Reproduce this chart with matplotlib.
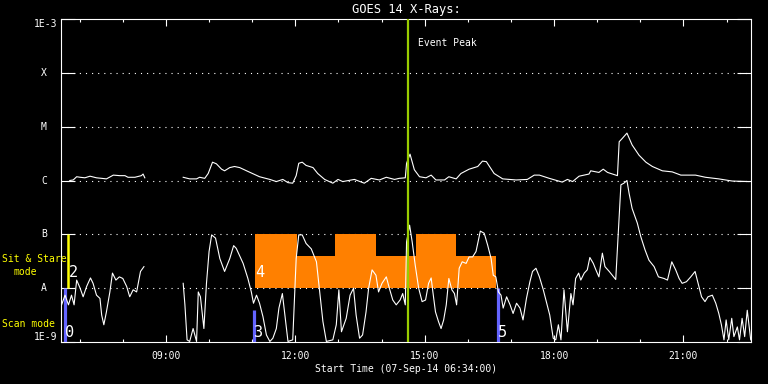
import matplotlib

matplotlib.use("Agg")
import matplotlib.pyplot as plt
import numpy as np
from matplotlib import transforms
from matplotlib.ticker import FixedLocator, NullLocator

nan = np.nan

# GOES 14, 07-Sep-14 : time in hours of day, flux as log10(W/m^2)
long_hours = [6.77, 6.85, 6.93, 7.01, 7.12, 7.24, 7.39, 7.51, 7.62, 7.78, 7.93, 8.05,
              8.12, 8.28, 8.43, 8.47, 8.51, nan,
              9.40, 9.55, 9.71, 9.78, 9.90, 9.98, 10.08, 10.17, 10.29, 10.36,
              10.48, 10.59, 10.71, 10.87, 11.17, 11.41, 11.56, 11.71, 11.83, 11.94,
              12.02, 12.08, 12.16, 12.25, 12.41, 12.52, 12.68, 12.87, 12.99, 13.10,
              13.37, 13.60, 13.76, 13.95, 14.11, 14.30, 14.41, 14.55, 14.58, 14.66,
              14.76, 14.88, 15.03, 15.15, 15.26, 15.46, 15.56, 15.73, 15.84, 16.03,
              16.23, 16.34, 16.43, 16.61, 16.81, 17.12, 17.38, 17.54, 17.66, 17.89,
              18.19, 18.31, 18.43, 18.58, 18.81, 18.85, 19.04, 19.14, 19.24, 19.47,
              19.51, 19.58, 19.69, 19.81, 19.97, 20.13, 20.28, 20.51, 20.74, 20.94,
              21.28, 21.51, 21.82, 22.13, 22.52]
long_log = [-6.00, -5.99, -5.93, -5.94, -5.95, -5.92, -5.95, -5.96, -5.97, -5.90, -5.91, -5.91,
            -5.94, -5.94, -5.91, -5.88, -5.95, nan,
            -5.94, -5.97, -5.97, -5.94, -5.96, -5.87, -5.66, -5.69, -5.79, -5.82,
            -5.76, -5.74, -5.76, -5.82, -5.93, -5.98, -6.02, -5.98, -6.04, -6.05,
            -5.91, -5.68, -5.66, -5.72, -5.76, -5.87, -5.98, -6.05, -5.98, -6.02,
            -5.98, -6.05, -5.96, -5.99, -5.94, -5.98, -5.96, -5.95, -5.68, -5.51,
            -5.80, -5.93, -5.95, -5.90, -5.99, -5.99, -5.93, -5.97, -5.87, -5.79,
            -5.74, -5.64, -5.65, -5.87, -5.97, -5.99, -5.98, -5.90, -5.90, -5.96,
            -6.03, -5.98, -6.02, -5.92, -5.88, -5.82, -5.85, -5.79, -5.85, -5.91,
            -5.28, -5.22, -5.12, -5.34, -5.53, -5.66, -5.74, -5.82, -5.84, -5.90,
            -5.90, -5.94, -5.97, -6.01, -6.02]

short_hours = [6.58, 6.66, 6.74, 6.81, 6.87, 6.93, 7.01, 7.08, 7.16, 7.25, 7.31, 7.39,
               7.47, 7.51, 7.56, 7.62, 7.70, 7.76, 7.84, 7.92, 8.00, 8.09, 8.16, 8.24,
               8.32, 8.41, 8.49, nan,
               9.40, 9.44, 9.49, 9.55, 9.63, 9.71, 9.75, 9.80, 9.88, 9.94,
               10.00, 10.06, 10.15, 10.25, 10.36, 10.48, 10.57, 10.63, 10.79, 10.90,
               10.98, 11.03, 11.10, 11.17, 11.25, 11.33, 11.41, 11.48, 11.56, 11.62,
               11.70, 11.75, 11.83, 11.94, 12.02, 12.08, 12.16, 12.25, 12.37, 12.49,
               12.56, 12.64, 12.72, 12.87, 12.95, 13.01, 13.07, 13.18, 13.27, 13.35,
               13.41, 13.49, 13.56, 13.64, 13.70, 13.78, 13.87, 13.93, 14.01, 14.11,
               14.18, 14.26, 14.34, 14.43, 14.49, 14.55, 14.58, 14.65, 14.71, 14.78,
               14.86, 14.94, 15.02, 15.09, 15.15, 15.19, 15.25, 15.32, 15.38, 15.44,
               15.50, 15.56, 15.63, 15.69, 15.74, 15.80, 15.87, 15.96, 16.03, 16.11,
               16.19, 16.29, 16.38, 16.46, 16.54, 16.59, 16.65, 16.71, 16.77, 16.82,
               16.90, 16.98, 17.05, 17.13, 17.21, 17.28, 17.36, 17.44, 17.50, 17.58,
               17.66, 17.75, 17.82, 17.90, 17.98, 18.04, 18.10, 18.16, 18.23, 18.31,
               18.39, 18.44, 18.50, 18.57, 18.62, 18.70, 18.77, 18.83, 18.91, 18.97,
               19.04, 19.12, 19.18, 19.28, 19.35, 19.43, 19.49, 19.55, 19.62, 19.69,
               19.74, 19.81, 19.93, 20.01, 20.11, 20.20, 20.32, 20.42, 20.55, 20.63,
               20.73, 20.82, 20.90, 20.97, 21.07, 21.17, 21.27, 21.34, 21.42, 21.50,
               21.57, 21.67, 21.75, 21.82, 21.88, 21.94, 21.99, 22.05, 22.12, 22.17,
               22.25, 22.30, 22.36, 22.42, 22.48, 22.56]
short_log = [-8.31, -8.13, -8.31, -8.13, -8.31, -7.85, -8.00, -8.16, -7.97, -7.81, -7.91, -8.13,
             -8.19, -8.50, -8.68, -8.44, -8.07, -7.72, -7.85, -7.79, -7.82, -7.97, -8.16, -8.03,
             -8.07, -7.69, -7.60, nan,
             -7.91, -8.31, -8.96, -8.99, -8.75, -8.99, -8.07, -8.16, -8.75, -7.91,
             -7.32, -7.01, -7.07, -7.45, -7.69, -7.45, -7.21, -7.26, -7.54, -7.82,
             -8.07, -8.28, -8.13, -8.28, -8.53, -8.87, -8.99, -8.93, -8.75, -8.37,
             -8.10, -8.44, -8.99, -8.96, -7.45, -7.01, -7.01, -7.17, -7.27, -7.51,
             -8.03, -8.62, -8.99, -8.96, -8.68, -8.03, -8.81, -8.56, -8.13, -8.00,
             -8.50, -8.93, -8.87, -8.44, -8.00, -7.66, -7.76, -8.07, -7.91, -7.79,
             -8.00, -8.22, -8.31, -8.22, -8.10, -8.31, -7.14, -6.83, -7.14, -7.57,
             -8.00, -8.25, -8.22, -7.91, -7.81, -8.07, -8.44, -8.62, -8.75, -8.59,
             -8.31, -7.82, -8.03, -8.10, -8.31, -7.63, -7.51, -7.54, -7.42, -7.42,
             -7.32, -6.94, -6.98, -7.20, -7.45, -7.76, -7.79, -8.07, -8.13, -8.37,
             -8.16, -8.31, -8.47, -8.28, -8.37, -8.59, -8.19, -7.88, -7.69, -7.63,
             -7.79, -8.03, -8.25, -8.50, -8.93, -8.96, -8.68, -8.96, -8.03, -8.81,
             -8.10, -8.31, -7.82, -7.72, -7.85, -7.72, -7.66, -7.43, -7.54, -7.66,
             -7.79, -7.35, -7.60, -7.69, -7.76, -7.84, -6.95, -6.08, -6.05, -6.00,
             -6.24, -6.52, -6.79, -7.04, -7.29, -7.48, -7.60, -7.79, -7.82, -7.85,
             -7.51, -7.66, -7.82, -7.91, -7.88, -7.79, -7.69, -7.91, -8.16, -8.25,
             -8.16, -8.13, -8.28, -8.47, -8.68, -8.96, -8.59, -8.96, -8.56, -8.90,
             -8.72, -8.96, -8.56, -8.90, -8.41, -8.96]

class_labels = ["1E-9", "A", "B", "C", "M", "X", "1E-3"]
class_exps = [-9, -8, -7, -6, -5, -4, -3]
time_ticks = [9, 12, 15, 18, 21]
time_labels = ["09:00", "12:00", "15:00", "18:00", "21:00"]

start_hour = 6 + 34 / 60
span_hours = 16
event_peak = 14.62

# observing modes : scan (blue) / sit & stare (yellow, orange)
scan_ids = ["0", "3", "5"]
scan_hours = [6.67, 11.05, 16.69]
scan_tops = [-8.0, -8.41, -8.0]
stare_ids = ["2"]
stare_hours = [6.72]
plan_id = "4"
plan_edges = [11.06, 12.03, 12.93, 13.88, 14.79, 15.73, 16.66]
plan_tops = [-7.0, -7.4, -7.0, -7.4, -7.0, -7.4]

plt.rcParams["font.family"] = "DejaVu Sans Mono"
BLUE = "#6464ff"
YEL = "#ffff00"
ORANGE = "#ff8000"
PEAK = "#99cc00"

fig = plt.figure(figsize=(7.68, 3.84), dpi=100, facecolor="black")
ax = fig.add_axes([61 / 768, 1 - 342 / 384, 690 / 768, 323 / 384], facecolor="black")
ax.set_yscale("log")
ax.set_xlim(start_hour, start_hour + span_hours)
ax.set_ylim(10.0 ** class_exps[0], 10.0 ** class_exps[-1])

# dotted level lines
ax.hlines(10.0 ** np.array(class_exps[1:-1]), start_hour, start_hour + span_hours,
          colors="white", lw=0.8, linestyles=(0, (1, 4.5)), zorder=1)

# orange plan block
tops = 10.0 ** np.array(plan_tops + plan_tops[-1:])
ax.fill_between(plan_edges, 1e-8, tops, step="post", color=ORANGE, lw=0, zorder=2)
ax.text(plan_edges[0], 10 ** -7.7, plan_id, color="white", fontsize=11,
        ha="left", va="center", zorder=5)

for sid, h, top in zip(scan_ids, scan_hours, scan_tops):
    ax.vlines(h, 1e-9, 10.0 ** top, color=BLUE, lw=2.3, zorder=3)
    ax.text(h, 10 ** -8.83, sid, color="white", fontsize=11, ha="left", va="center", zorder=5)
for sid, h in zip(stare_ids, stare_hours):
    ax.vlines(h, 1e-8, 1e-7, color=YEL, lw=1.8, zorder=3)
    ax.text(h + 0.03, 10 ** -7.7, sid, color="white", fontsize=11, ha="left", va="center",
            zorder=5)

ax.plot(long_hours, 10.0 ** np.array(long_log), color="white", lw=0.8, zorder=4)
ax.plot(short_hours, 10.0 ** np.array(short_log), color="white", lw=0.8, zorder=4)

ax.axvline(event_peak, color=PEAK, lw=1.6, zorder=6)
off = transforms.offset_copy(ax.get_xaxis_transform(), fig=fig, x=10, y=0, units="dots")
ax.text(event_peak, 0.926, "Event Peak", transform=off, color="white", fontsize=7,
        ha="left", va="center")

# axes styling
for sp in ax.spines.values():
    sp.set_color("white")
    sp.set_linewidth(0.8)
ax.yaxis.set_major_locator(FixedLocator(10.0 ** np.array(class_exps)))
ax.yaxis.set_minor_locator(NullLocator())
ax.set_yticklabels([])
ax.tick_params(axis="y", which="major", direction="in", length=10, width=0.8,
               left=True, right=True, color="white")
ax.set_xticks(time_ticks)
ax.set_xticklabels(time_labels)
ax.xaxis.set_minor_locator(FixedLocator(np.arange(7, 23)))
ax.tick_params(axis="x", which="major", direction="in", length=5, width=0.8, top=True,
               bottom=True, colors="white", labelsize=7, pad=6.5)
ax.tick_params(axis="x", which="minor", direction="in", length=2.5, width=0.8, top=True,
               bottom=True, colors="white")

ytr = ax.get_yaxis_transform()
for lab, e in zip(class_labels, class_exps):
    if lab.startswith("1E"):
        va = "top" if e == class_exps[-1] else "bottom"
        ax.text(-0.006, 10.0 ** e, lab, transform=ytr, color="white", fontsize=7,
                ha="right", va=va)
    else:
        ax.text(-0.0246, 10.0 ** e, lab, transform=ytr, color="white", fontsize=7,
                ha="center", va="center")

ax.set_title("GOES 14 X-Rays:", color="white", fontsize=8.7, pad=4)
ax.set_xlabel("Start Time (07-Sep-14 06:34:00)", color="white", fontsize=7, labelpad=2)

fig.text(2 / 768, 1 - 259 / 384, "Sit & Stare", color=YEL, fontsize=7, ha="left", va="center")
fig.text(13 / 768, 1 - 272 / 384, "mode", color=YEL, fontsize=7, ha="left", va="center")
fig.text(2 / 768, 1 - 324 / 384, "Scan mode", color=YEL, fontsize=7, ha="left", va="center")

fig.savefig("out.png", dpi=100, facecolor="black")
